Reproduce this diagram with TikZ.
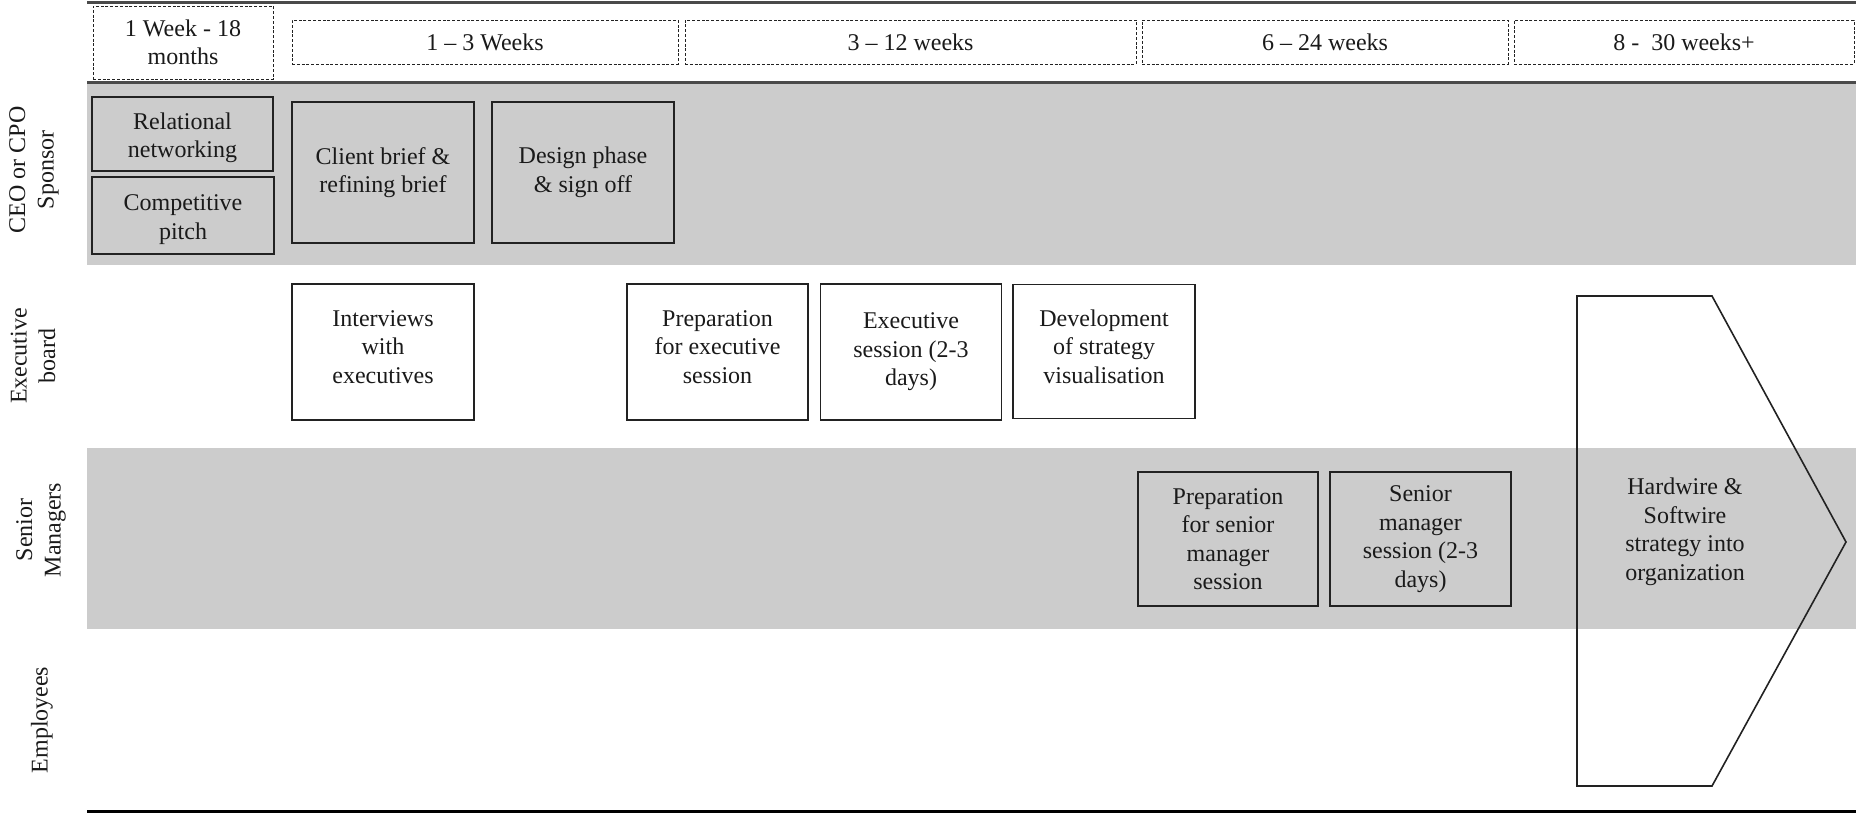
\documentclass[tikz,border=0pt]{standalone}
\usepackage{fontspec}
\setmainfont{Liberation Serif}
\definecolor{bandgray}{HTML}{CCCCCC}
\definecolor{txt}{HTML}{1A1A1A}
\definecolor{boxc}{HTML}{222222}
\definecolor{rulec}{HTML}{4A4A4A}
\newcommand{\upfix}{\rule[-10pt]{0pt}{0pt}}
\newcommand{\downfix}{\rule{0pt}{24pt}}
\begin{document}
\begin{tikzpicture}[x=1pt,y=-1pt,
  every node/.style={font=\fontsize{24}{28.5}\selectfont, text=txt, align=center, inner sep=0pt},
  stepbox/.style={draw=boxc, line width=1.6pt},
  hdrbox/.style={draw=boxc, line width=0.9pt, dash pattern=on 3pt off 1.8pt, fill=white},
  lanelabel/.style={rotate=90}
]
\useasboundingbox (0,0) rectangle (1856,813);
% lanes
\fill[bandgray] (87,83) rectangle (1856,265);
\fill[bandgray] (87,447.5) rectangle (1856,629);
% rules
\draw[rulec, line width=2.5pt] (87,2.5) -- (1856,2.5);
\draw[rulec, line width=2.5pt] (87,82.5) -- (1856,82.5);
\draw[black, line width=2.2pt] (87,811.5) -- (1856,811.5);

% header
\node[hdrbox, minimum width=180pt, minimum height=73pt] (h0) at (183,42.5) {1 Week - 18\\months};
\node[hdrbox, minimum width=386pt, minimum height=44pt] (h1) at (485,42) {1 -- 3 Weeks};
\node[hdrbox, minimum width=451pt, minimum height=44pt] (h2) at (910.5,42) {3 -- 12 weeks};
\node[hdrbox, minimum width=366pt, minimum height=44pt] (h3) at (1325,42) {6 -- 24 weeks};
\node[hdrbox, minimum width=340pt, minimum height=44pt] (h4) at (1684,42) {8 -\ \ 30 weeks+};

% lane labels
\node[lanelabel] (l1) at (34,170) {CEO or CPO\\Sponsor};
\node[lanelabel] (l2) at (33,356) {Executive\\board};
\node[lanelabel] (l3) at (41,530) {Senior\\Managers};
\node[lanelabel] (l4) at (42,720) {Employees};

% row 1
\node[stepbox, minimum width=181pt, minimum height=74pt] (rel) at (182.5,134) {\downfix Relational\\networking};
\node[stepbox, minimum width=182pt, minimum height=77pt] (comp) at (183,215.5) {\downfix Competitive\\pitch};
\node[stepbox, minimum width=182pt, minimum height=141pt] (client) at (383,172.5) {Client brief \&\\refining brief};
\node[stepbox, minimum width=182pt, minimum height=141pt] (design) at (583,172.5) {Design phase\\\& sign off};

% row 2
\node[stepbox, minimum width=182pt, minimum height=136pt] (intv) at (383,352) {Interviews\\with\\executives\upfix};
\node[stepbox, minimum width=181pt, minimum height=136pt] (prepexec) at (717.5,352) {Preparation\\for executive\\session\upfix};
\node[stepbox, minimum width=181pt, minimum height=136pt] (execsess) at (911,352) {Executive\\session (2-3\\days)};
\node[stepbox, minimum width=182pt, minimum height=134pt] (devel) at (1104,351.5) {Development\\of strategy\\visualisation\upfix};

% row 3
\node[stepbox, minimum width=180pt, minimum height=134pt] (prepsen) at (1228,539) {Preparation\\for senior\\manager\\session};
\node[stepbox, minimum width=181pt, minimum height=134pt] (sensess) at (1420.5,539) {Senior\\manager\\session (2-3\\days)};

% final chevron
\coordinate (a1) at (1577,296);
\coordinate (a2) at (1712,296);
\coordinate (a3) at (1846,542);
\coordinate (a4) at (1712,786);
\coordinate (a5) at (1577,786);
\draw[boxc, line width=1.6pt, line join=miter] (a1) -- (a2) -- (a3) -- (a4) -- (a5) -- cycle;
\node (hw) at (1685,532) {Hardwire \&\\Softwire\\strategy into\\organization};
\end{tikzpicture}
\end{document}
